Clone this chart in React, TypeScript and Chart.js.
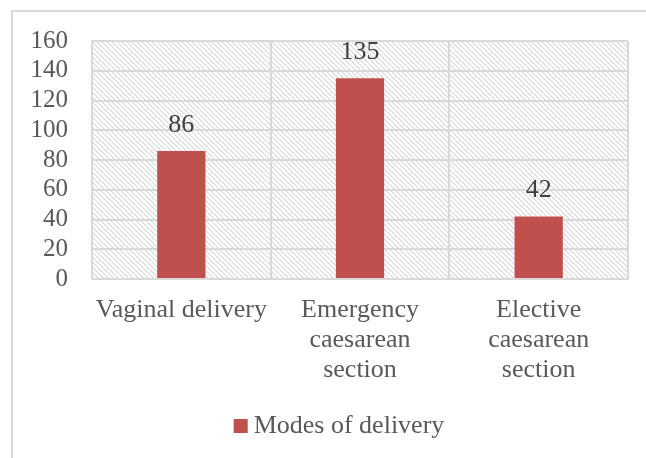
import React, { useEffect, useRef } from "react";
import { Chart, registerables } from "chart.js";

Chart.register(...registerables);

const categories: (string | string[])[] = [
  "Vaginal delivery",
  ["Emergency", "caesarean", "section"],
  ["Elective", "caesarean", "section"],
];
const seriesLabel = "Modes of delivery";
const seriesValues = [86, 135, 42];
const yMin = 0;
const yMax = 160;
const yStep = 20;

const FONT = "'Liberation Serif', 'Times New Roman', serif";
const BAR = "#C0504D";
const GRID = "#d9d9d9";
const TEXT = "#595959";
const FS = 26;

function makePattern(ctx: CanvasRenderingContext2D) {
  const c = document.createElement("canvas");
  const n = 5;
  c.width = n;
  c.height = n;
  const g = c.getContext("2d")!;
  g.fillStyle = "#ffffff";
  g.fillRect(0, 0, n, n);
  for (let i = 0; i < n; i++) {
    g.fillStyle = "#d6d6d6";
    g.fillRect(i, i, 1, 1);
    g.fillStyle = "#f0f0f0";
    g.fillRect((i + 1) % n, i, 1, 1);
  }
  return ctx.createPattern(c, "repeat");
}

const bgPlugin = {
  id: "hatchBg",
  beforeDraw(chart: any) {
    const { ctx, chartArea } = chart;
    const p = makePattern(ctx);
    if (!p) return;
    ctx.save();
    ctx.fillStyle = p;
    ctx.fillRect(chartArea.left, chartArea.top, chartArea.right - chartArea.left, chartArea.bottom - chartArea.top);
    ctx.restore();
  },
};

const labelPlugin = {
  id: "valueLabels",
  afterDatasetsDraw(chart: any) {
    const { ctx } = chart;
    const meta = chart.getDatasetMeta(0);
    ctx.save();
    ctx.font = `${FS}px ${FONT}`;
    ctx.fillStyle = "#404040";
    ctx.textAlign = "center";
    ctx.textBaseline = "middle";
    meta.data.forEach((el: any, i: number) => {
      ctx.fillText(String(chart.data.datasets[0].data[i]), el.x, el.y - 26);
    });
    ctx.restore();
  },
};

const legendPlugin = {
  id: "customLegend",
  afterDraw(chart: any) {
    const { ctx } = chart;
    const ds = chart.data.datasets[0];
    ctx.save();
    ctx.font = `${FS}px ${FONT}`;
    const tw = ctx.measureText(ds.label).width;
    const box = 14;
    const gap = 6;
    const total = box + gap + tw;
    const cx = 339;
    const cy = 426;
    const x0 = cx - total / 2;
    ctx.fillStyle = ds.backgroundColor;
    ctx.fillRect(x0, cy - box / 2, box, box);
    ctx.fillStyle = TEXT;
    ctx.textAlign = "left";
    ctx.textBaseline = "middle";
    ctx.fillText(ds.label, x0 + box + gap, cy);
    ctx.restore();
  },
};

export default function App() {
  const ref = useRef<HTMLCanvasElement>(null);
  useEffect(() => {
    if (!ref.current) return;
    const chart = new Chart(ref.current, {
      type: "bar",
      data: {
        labels: categories,
        datasets: [
          {
            label: seriesLabel,
            data: seriesValues,
            backgroundColor: BAR,
            barPercentage: 0.54,
            categoryPercentage: 0.5,
          },
        ],
      },
      options: {
        animation: false,
        responsive: false,
        maintainAspectRatio: false,
        layout: { padding: { left: 0, top: 41, right: 18, bottom: 49 } },
        plugins: { legend: { display: false }, tooltip: { enabled: false } },
        scales: {
          x: {
            grid: { color: GRID, lineWidth: 2, offset: true, drawTicks: false },
            border: { color: GRID, width: 2 },
            ticks: {
              color: TEXT,
              font: { family: FONT, size: FS, lineHeight: 1.16 },
              padding: 16,
              maxRotation: 0,
              autoSkip: false,
            },
            afterFit(scale: any) {
              scale.height = 130;
            },
          },
          y: {
            min: yMin,
            max: yMax,
            grid: { color: GRID, lineWidth: 2, drawTicks: false },
            border: { color: GRID, width: 2 },
            ticks: {
              stepSize: yStep,
              autoSkip: false,
              color: TEXT,
              font: { family: FONT, size: 25 },
              padding: 24,
            },
            afterFit(scale: any) {
              scale.width = 92;
            },
          },
        },
      },
      plugins: [bgPlugin, labelPlugin, legendPlugin],
    });
    return () => chart.destroy();
  }, []);
  return (
    <div style={{ position: "fixed", left: 0, top: 0, width: 646, height: 458, background: "#fff" }}>
      <div
        style={{
          position: "absolute",
          left: 11,
          top: 10,
          width: 700,
          height: 500,
          borderLeft: `2px solid ${GRID}`,
          borderTop: `2px solid ${GRID}`,
        }}
      />
      <canvas ref={ref} width={646} height={458} style={{ position: "absolute", left: 0, top: 0 }} />
    </div>
  );
}
